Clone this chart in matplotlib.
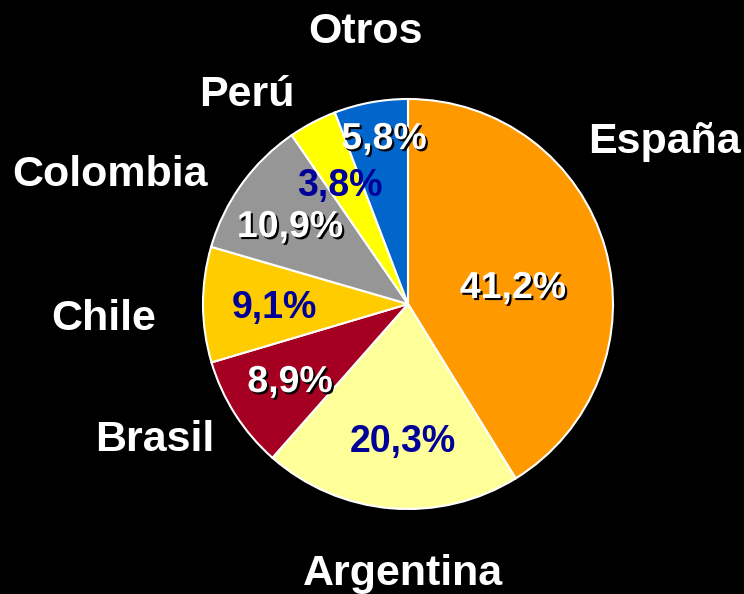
import matplotlib
matplotlib.use('Agg')
import matplotlib.pyplot as plt
import matplotlib.patheffects as pe

# data
countries = ['España', 'Argentina', 'Brasil', 'Chile', 'Colombia', 'Perú', 'Otros']
shares = [41.2, 20.3, 8.9, 9.1, 10.9, 3.8, 5.8]
pct_labels = ['41,2%', '20,3%', '8,9%', '9,1%', '10,9%', '3,8%', '5,8%']

colors = ['#FF9900', '#FFFF99', '#A50021', '#FFCC00', '#969696', '#FFFF00', '#0066CC']
pct_colors = ['white', '#000099', 'white', '#000099', 'white', '#000099', 'white']

# label placement in pixel coords (y from top)
name_pos = [(664, 142), (403, 574), (155, 440), (104, 319), (110, 175), (247, 95), (365, 32)]
pct_pos = [(513, 288), (403, 442), (290, 382), (274, 308), (290, 227), (340, 186), (384, 139)]

W, H = 744, 594
fig = plt.figure(figsize=(W / 100, H / 100), dpi=100, facecolor='black')
ax = fig.add_axes([0, 0, 1, 1])
ax.set_facecolor('black')
ax.axis('off')

ax.pie(shares, colors=colors, startangle=90, counterclock=False,
       center=(408, H - 304), radius=205,
       wedgeprops=dict(edgecolor='white', linewidth=1.5))
ax.set_xlim(0, W)
ax.set_ylim(0, H)
ax.set_aspect('equal')

shadow = [pe.withSimplePatchShadow(offset=(1.5, -1.5), shadow_rgbFace='black', alpha=1)]

for name, (x, y) in zip(countries, name_pos):
    ax.text(x, H - y, name, color='white', fontsize=31, fontweight='bold',
            family='Liberation Sans', ha='center', va='center')

for lab, c, (x, y) in zip(pct_labels, pct_colors, pct_pos):
    ax.text(x, H - y, lab, color=c, fontsize=27, fontweight='bold',
            family='Liberation Sans', ha='center', va='center',
            path_effects=shadow if c == 'white' else None)

fig.savefig('out.png', dpi=100, facecolor='black')
